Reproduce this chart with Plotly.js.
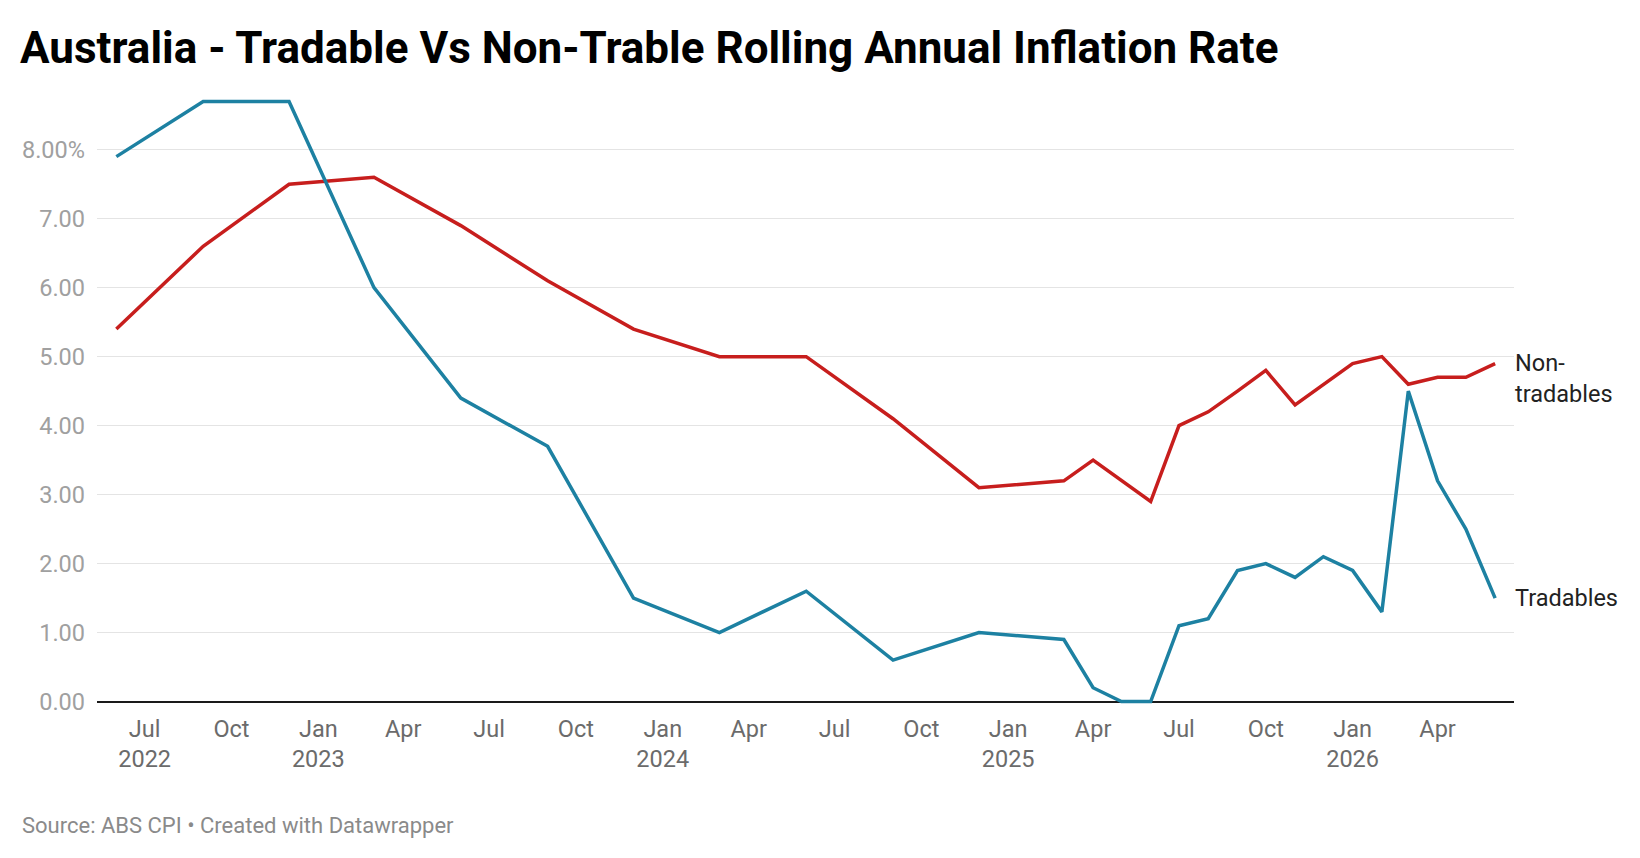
<!DOCTYPE html>
<html>
<head>
<meta charset="utf-8">
<script src="https://cdn.plot.ly/plotly-3.0.1.min.js"></script>
<style>
  html, body { margin: 0; padding: 0; background: #ffffff; }
  #chart { width: 1640px; height: 858px; }
</style>
</head>
<body>
<div id="chart"></div>
<script>
// quarterly readings up to Mar 2025, monthly after that
var dates = [
  "2022-06-01", "2022-09-01", "2022-12-01", "2023-03-01", "2023-06-01", "2023-09-01",
  "2023-12-01", "2024-03-01", "2024-06-01", "2024-09-01", "2024-12-01", "2025-03-01",
  "2025-04-01", "2025-05-01", "2025-06-01", "2025-07-01", "2025-08-01", "2025-09-01",
  "2025-10-01", "2025-11-01", "2025-12-01", "2026-01-01", "2026-02-01", "2026-03-01",
  "2026-04-01", "2026-05-01", "2026-06-01"
];
var tradables = [
  7.9, 8.7, 8.7, 6.0, 4.4, 3.7, 1.5, 1.0, 1.6, 0.6, 1.0, 0.9,
  0.2, 0.0, 0.0, 1.1, 1.2, 1.9, 2.0, 1.8, 2.1, 1.9, 1.3, 4.5, 3.2, 2.5, 1.5
];
var nonTradables = [
  5.4, 6.6, 7.5, 7.6, 6.9, 6.1, 5.4, 5.0, 5.0, 4.1, 3.1, 3.2,
  3.5, 3.2, 2.9, 4.0, 4.2, 4.5, 4.8, 4.3, 4.6, 4.9, 5.0, 4.6, 4.7, 4.7, 4.9
];

var xTickVals = [
  "2022-07-01", "2022-10-01", "2023-01-01", "2023-04-01", "2023-07-01", "2023-10-01",
  "2024-01-01", "2024-04-01", "2024-07-01", "2024-10-01", "2025-01-01", "2025-04-01",
  "2025-07-01", "2025-10-01", "2026-01-01", "2026-04-01"
];
var xTickText = [
  "Jul<br>2022", "Oct", "Jan<br>2023", "Apr", "Jul", "Oct",
  "Jan<br>2024", "Apr", "Jul", "Oct", "Jan<br>2025", "Apr",
  "Jul", "Oct", "Jan<br>2026", "Apr"
];
var yTickVals = [0, 1, 2, 3, 4, 5, 6, 7, 8];
var yTickText = ["0.00", "1.00", "2.00", "3.00", "4.00", "5.00", "6.00", "7.00", "8.00%"];

var BLUE = "#1d81a2";
var RED = "#c71e1d";
var last = dates.length - 1;

// plot box in page pixels
var W = 1640, H = 858;
var M = { l: 97, r: 126, t: 98, b: 153 };

var data = [
  {
    x: dates,
    y: nonTradables,
    type: "scatter",
    mode: "lines",
    name: "Non-tradables",
    line: { color: RED, width: 3.5 },
    hoverinfo: "skip"
  },
  {
    x: dates,
    y: tradables,
    type: "scatter",
    mode: "lines",
    name: "Tradables",
    line: { color: BLUE, width: 3.5 },
    hoverinfo: "skip"
  }
];

var layout = {
  width: W,
  height: H,
  paper_bgcolor: "#ffffff",
  plot_bgcolor: "#ffffff",
  font: { family: "Roboto, sans-serif", color: "#333333" },
  showlegend: false,
  margin: { l: M.l, r: M.r, t: M.t, b: M.b, pad: 0 },
  title: {
    text: "<b>Australia - Tradable Vs Non-Trable Rolling Annual Inflation Rate</b>",
    font: { family: "Roboto, sans-serif", size: 44, color: "#000000" },
    x: 20 / W,
    xanchor: "left",
    xref: "container",
    y: 1 - 32 / H,
    yanchor: "top",
    yref: "container"
  },
  xaxis: {
    type: "date",
    range: ["2022-05-11 12:00", "2026-06-21"],
    tickvals: xTickVals,
    ticktext: xTickText,
    tickfont: { size: 23.5, color: "#6b6b6b" },
    ticks: "",
    showgrid: false,
    zeroline: false,
    showline: false,
    ticklabelstandoff: 7,
    fixedrange: true
  },
  yaxis: {
    range: [-0.05, 8.75],
    tickvals: yTickVals,
    ticktext: yTickText,
    tickfont: { size: 23.5, color: "#a0a0a0" },
    ticks: "",
    showgrid: true,
    gridcolor: "#e4e4e4",
    gridwidth: 1.3,
    zeroline: true,
    zerolinecolor: "#1a1a1a",
    zerolinewidth: 2,
    showline: false,
    ticklabelstandoff: 11,
    fixedrange: true
  },
  annotations: [
    {
      // line label, first line level with the last value
      x: dates[last],
      y: nonTradables[last],
      xref: "x",
      yref: "y",
      text: "Non-<br>tradables",
      showarrow: false,
      xanchor: "left",
      yanchor: "middle",
      align: "left",
      xshift: 18,
      yshift: -15,
      font: { family: "Roboto, sans-serif", size: 23.5, color: "#222222" }
    },
    {
      x: dates[last],
      y: tradables[last],
      xref: "x",
      yref: "y",
      text: "Tradables",
      showarrow: false,
      xanchor: "left",
      yanchor: "middle",
      align: "left",
      xshift: 18,
      font: { family: "Roboto, sans-serif", size: 23.5, color: "#222222" }
    },
    {
      // source line, placed in page pixels
      x: (20 - M.l) / (W - M.l - M.r),
      y: (H - M.b - 825) / (H - M.t - M.b),
      xref: "paper",
      yref: "paper",
      text: "Source: ABS CPI • Created with Datawrapper",
      showarrow: false,
      xanchor: "left",
      yanchor: "middle",
      font: { family: "Roboto, sans-serif", size: 22, color: "#8a8a8a" }
    }
  ]
};

Plotly.newPlot("chart", data, layout, { displayModeBar: false, staticPlot: true });
</script>
</body>
</html>
